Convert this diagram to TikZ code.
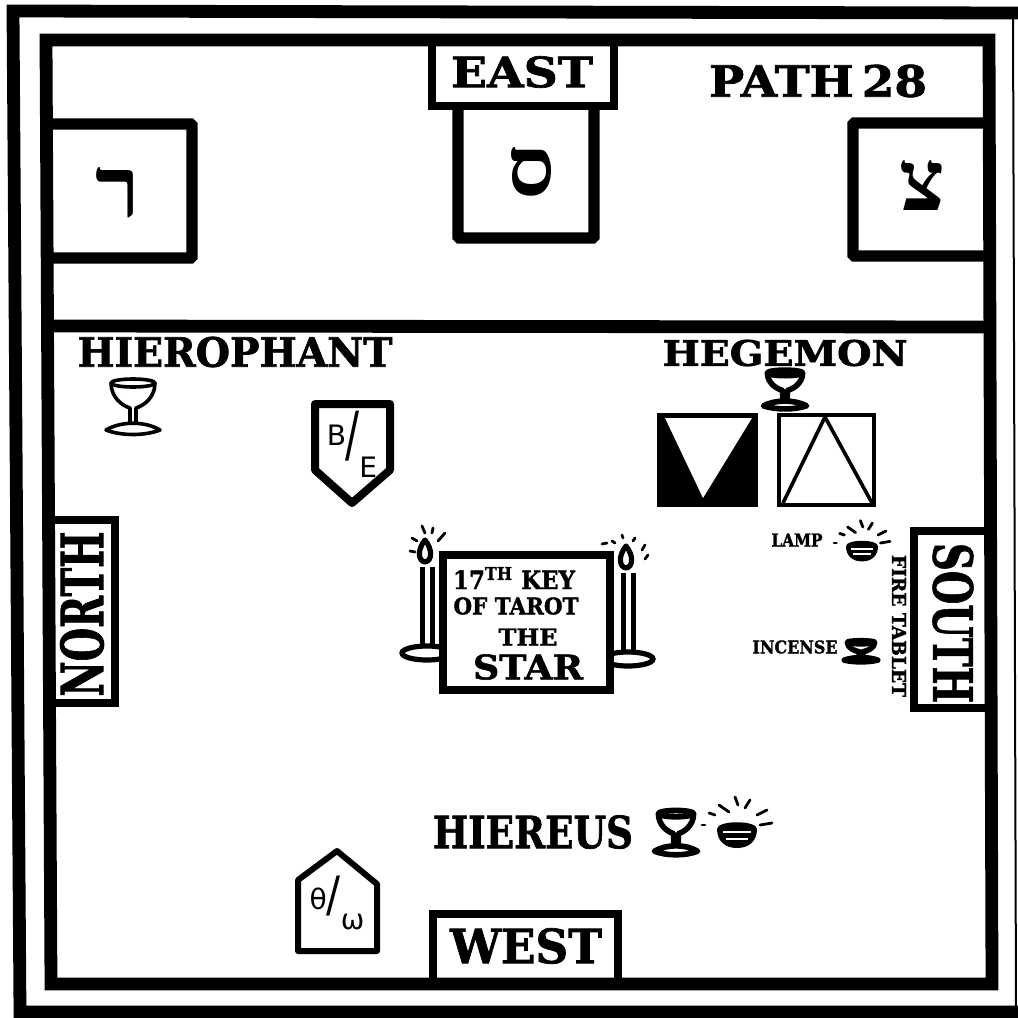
\documentclass[tikz,border=0pt]{standalone}
\usepackage{graphicx}
\usepackage{fontspec}
\setmainfont{DejaVu Serif}[BoldFeatures={FakeBold=1.6}]
\newfontfamily\hebfont[Script=Hebrew]{Liberation Serif}
\newfontfamily\handfont{DejaVu Sans}
\TeXXeTstate=1
\newlength\pxunit
\setlength\pxunit{0.025cm}
\newcommand{\fitlabel}[3]{\resizebox{#1\pxunit}{#2\pxunit}{#3}}
\newcommand{\hebletter}[3]{\resizebox{#1\pxunit}{#2\pxunit}{\hebfont\bfseries\beginR #3\endR}}
\newcommand{\splitlabel}[6]{\raisebox{#3\pxunit}{#1}\kern#6\pxunit\resizebox*{14\pxunit}{#5\pxunit}{/}\raisebox{#4\pxunit}{#2}}
\tikzset{
  wall/.style={line width=0.32cm},
  boxwall/.style={line width=0.28cm, rounded corners=1pt},
  signwall/.style={line width=0.2cm},
  lbl/.style={inner sep=0pt, font=\bfseries},
  tablet/.style={line width=0.15cm, line join=round},
  ray/.style={line width=0.07cm, line cap=round},
  cupthin/.style={line width=0.09cm, line join=round},
  cupthick/.style={line width=0.14cm, line join=round},
  cup/.pic={
    \draw (0,-23) ellipse (22 and 4);
    \draw (-22,-23) .. controls (-22,-8) and (-10,0) .. (-3,2) -- (-3,18);
    \draw (22,-23) .. controls (22,-8) and (10,0) .. (3,2) -- (3,18);
    \draw (-27,24) .. controls (-12,15) and (12,15) .. (27,24) .. controls (12,30) and (-12,30) .. (-27,24) -- cycle;
  },
  lamp/.pic={
    \fill (-20,-6) .. controls (-20,-15) and (20,-15) .. (20,-6) .. controls (20,6) and (12,13) .. (0,13) .. controls (-12,13) and (-20,6) .. (-20,-6) -- cycle;
    \draw[white, line width=0.05cm] (-14,-3) -- (14,-3) (-11,4) -- (11,4);
    \foreach \xa/\ya/\xb/\yb in {-28/-22/-22/-20, -18/-30/-8/-23, -2/-38/1/-30, 13/-35/8/-27, 30/-25/20/-20, 35/-12/23/-10, -35/-10/-32/-10}
      \draw[ray] (\xa,\ya) -- (\xb,\yb);
  },
  candle/.pic={
    \draw[line width=0.13cm] (-2.5,14) -- (-2.5,95) (7.5,14) -- (7.5,95);
    \draw[line width=0.13cm, fill=white] (2,100) ellipse (25 and 7);
    \draw[line width=0.13cm, line join=round] (0,-13) .. controls (8,-3) and (7,8) .. (0,9) .. controls (-7,8) and (-8,-3) .. (0,-13) -- cycle;
  }
}
\begin{document}
\begin{tikzpicture}[x=0.025cm, y=-0.025cm]
  \useasboundingbox (0,0) rectangle (1018,1018);
  % outer border and temple walls
  \draw[wall] (1018,13) -- (13,11) -- (20,1012) -- (1018,1012);
  \draw[line width=0.05cm] (1013,13) -- (1016,1012);
  \draw[wall] (46,40) -- (989,40) -- (992,984) -- (51,984) -- cycle;
  \draw[wall] (46,326) -- (990,327);
  % the three portals
  \draw[boxwall] (46,124) -- (192,124) -- (192,258) -- (46,258);
  \draw[boxwall] (458,104) -- (458,238) -- (594,238) -- (594,104);
  \draw[boxwall] (989,123) -- (853,123) -- (853,256) -- (989,256);
  \node[lbl] (resh) at (118,193) {\hebletter{45}{50}{ר}};
  \node[lbl] (samekh) at (531,172) {\hebletter{48}{48}{ס}};
  \node[lbl] (tzaddi) at (922,185) {\hebletter{46}{50}{צ}};
  % quarter signs
  \draw[signwall] (432,44) -- (432,106) -- (614,106) -- (614,44);
  \draw[signwall] (50,520) -- (115,520) -- (115,703) -- (50,703);
  \draw[signwall] (986,531) -- (914,531) -- (914,708) -- (986,708);
  \draw[signwall] (433,980) -- (433,914) -- (618,914) -- (618,980);
  \node[lbl] (east) at (522,72) {\fitlabel{142}{31}{EAST}};
  \node[lbl] (path) at (818,81) {\fitlabel{218}{32}{PATH\,28}};
  \node[lbl, rotate=90] (north) at (82,614) {\fitlabel{165}{43}{NORTH}};
  \node[lbl, rotate=-90] (south) at (953,623) {\fitlabel{160}{40}{SOUTH}};
  \node[lbl] (west) at (526,946) {\fitlabel{152}{35}{WEST}};
  % officers
  \node[lbl] (hierophant) at (235,352) {\fitlabel{315}{30}{HIEROPHANT}};
  \node[lbl] (hegemon) at (785,353) {\fitlabel{245}{26}{HEGEMON}};
  \node[lbl] (hiereus) at (533,832) {\fitlabel{200}{33}{HIEREUS}};
  \pic[cupthin] at (133,406) {cup};
  \pic[cupthick, xscale=0.8, yscale=0.7] at (785,389) {cup};
  \pic[cupthick, scale=0.8] at (676,832) {cup};
  \pic[cupthick, xscale=0.62, yscale=0.38] at (861,651) {cup};
  \pic[scale=1] at (737,835) {lamp};
  \pic[scale=0.8] at (862,551) {lamp};
  % tablets of the pillars
  \draw[tablet, line width=0.2cm] (315,404) -- (390,404) -- (390,470) -- (352,503) -- (315,470) -- cycle;
  \node[inner sep=0pt, font=\handfont\fontsize{20}{20}\selectfont] (fire) at (352,444) {\splitlabel{B}{E}{10}{-22}{50}{-1}};
  \draw[tablet] (298,951) -- (298,880) -- (337,851) -- (377,884) -- (377,951) -- cycle;
  \node[inner sep=0pt, font=\handfont\fontsize{20}{20}\selectfont] (water) at (337,903) {\splitlabel{θ}{ω}{2}{-18}{40}{0}};
  % elemental squares
  \fill (657,413) rectangle (758,507);
  \fill[white] (665,418) -- (752,418) -- (703,498) -- cycle;
  \draw[line width=0.12cm] (779,415) rectangle (874,505);
  \draw[line width=0.09cm] (825,417) -- (783,503) (825,417) -- (872,503);
  % candles and central altar
  \pic at (425,553) {candle};
  \pic at (626,559) {candle};
  \foreach \xa/\ya/\xb/\yb in {410/551/415/552, 412/538/417/541, 422/526/425/533, 433/528/432/533, 445/533/438/541}
    \draw[ray] (\xa,\ya) -- (\xb,\yb);
  \foreach \xa/\ya/\xb/\yb in {602/544/607/543, 612/541/615/543, 622/535/623/538, 635/538/633/541, 645/545/642/550, 648/555/645/559}
    \draw[ray] (\xa,\ya) -- (\xb,\yb);
  \draw[line width=0.19cm, fill=white] (443,555) rectangle (610,690);
  \node[lbl] (key) at (514,578) {\fitlabel{122}{22}{17\textsuperscript{TH} KEY}};
  \node[lbl] (tarot) at (516,606) {\fitlabel{125}{17}{OF TAROT}};
  \node[lbl] (the) at (528,637) {\fitlabel{59}{17}{THE}};
  \node[lbl] (star) at (528,667) {\fitlabel{110}{25}{STAR}};
  % fire table
  \node[lbl] (lamplbl) at (797,540) {\fitlabel{51}{13}{LAMP}};
  \node[lbl] (incense) at (795,647) {\fitlabel{85}{13}{INCENSE}};
  \node[lbl, rotate=-90] (firetable) at (899,626) {\fitlabel{142}{14}{FIRE TABLET}};
\end{tikzpicture}
\end{document}
